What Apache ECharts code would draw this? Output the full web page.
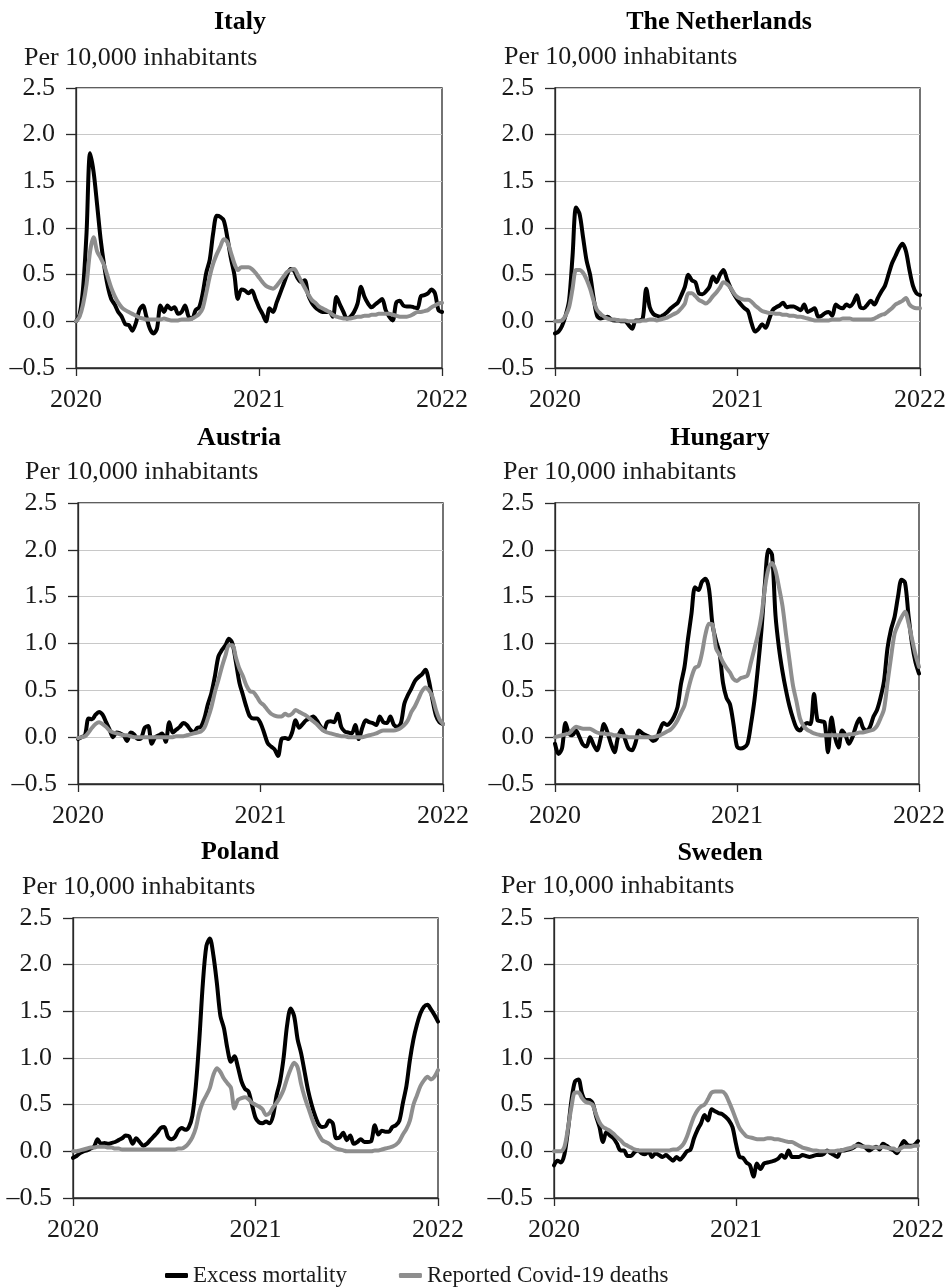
<!DOCTYPE html>
<html><head><meta charset="utf-8">
<script src="https://cdn.jsdelivr.net/npm/echarts@6/dist/echarts.min.js"></script>
<style>html,body{margin:0;padding:0;background:#fff}#c{width:952px;height:1287px}</style>
</head><body><div id="c"></div>
<script>
// ---------- DATA ----------
const countries = ['Italy', 'The Netherlands', 'Austria', 'Hungary', 'Poland', 'Sweden'];
const seriesNames = ['Excess mortality', 'Reported Covid-19 deaths'];
const unitLabel = 'Per 10,000 inhabitants';
const xTickLabels = ['2020', '2021', '2022'];   // one label per 52 weeks
const yMin = -0.5, yMax = 2.5, yStep = 0.5;

// weekly values, week 0 = start of 2020, week 104 = start of 2022
const italyExcess = [0.0,0.07,0.35,0.95,1.8,1.6,1.25,0.88,0.6,0.38,
 0.24,0.18,0.1,0.05,-0.03,-0.04,-0.1,-0.02,0.12,0.17,
 0.05,-0.08,-0.13,-0.08,0.17,0.1,0.17,0.13,0.15,0.08,
 0.1,0.17,0.05,0.03,0.12,0.15,0.3,0.52,0.66,0.95,
 1.13,1.12,1.08,0.9,0.68,0.5,0.24,0.34,0.33,0.3,
 0.33,0.24,0.15,0.08,0.0,0.14,0.1,0.2,0.3,0.4,
 0.5,0.56,0.54,0.46,0.42,0.44,0.28,0.2,0.15,0.12,
 0.1,0.1,0.1,0.05,0.26,0.18,0.1,0.03,0.05,0.1,
 0.19,0.37,0.26,0.19,0.15,0.18,0.21,0.24,0.12,0.05,
 0.01,0.2,0.22,0.17,0.16,0.16,0.15,0.14,0.27,0.28,
 0.3,0.34,0.3,0.12,0.1];
const italyReported = [0.0,0.05,0.18,0.4,0.75,0.9,0.75,0.68,0.6,0.48,
 0.36,0.27,0.2,0.15,0.12,0.1,0.08,0.06,0.04,0.03,
 0.02,0.02,0.02,0.02,0.02,0.03,0.02,0.01,0.01,0.01,
 0.02,0.02,0.02,0.03,0.05,0.08,0.14,0.3,0.48,0.62,
 0.72,0.8,0.88,0.85,0.74,0.62,0.55,0.58,0.58,0.58,
 0.56,0.52,0.47,0.42,0.38,0.36,0.35,0.38,0.43,0.48,
 0.53,0.55,0.56,0.5,0.43,0.36,0.29,0.23,0.2,0.16,
 0.14,0.12,0.1,0.07,0.05,0.04,0.03,0.03,0.03,0.04,
 0.05,0.05,0.06,0.06,0.07,0.07,0.08,0.08,0.08,0.08,
 0.07,0.06,0.05,0.05,0.05,0.06,0.08,0.1,0.1,0.11,
 0.12,0.15,0.17,0.19,0.2];

const netherlandsExcess = [-0.13,-0.11,-0.05,0.06,0.22,0.7,1.22,1.15,0.9,0.65,
 0.5,0.25,0.06,0.03,0.04,0.05,0.02,0.01,0.01,0.0,
 0.0,-0.04,-0.08,0.01,0.01,0.03,0.35,0.15,0.08,0.06,
 0.05,0.07,0.1,0.14,0.17,0.2,0.28,0.37,0.5,0.44,
 0.42,0.3,0.29,0.32,0.37,0.48,0.42,0.5,0.55,0.45,
 0.36,0.29,0.23,0.18,0.14,0.11,-0.02,-0.11,-0.08,-0.03,
 -0.07,0.02,0.12,0.15,0.17,0.2,0.15,0.16,0.16,0.14,
 0.12,0.18,0.1,0.12,0.14,0.05,0.06,0.09,0.1,0.06,
 0.18,0.15,0.14,0.18,0.16,0.2,0.28,0.15,0.14,0.18,
 0.22,0.18,0.25,0.32,0.38,0.5,0.62,0.7,0.78,0.83,
 0.75,0.55,0.38,0.3,0.28];
const netherlandsReported = [0,0,0.01,0.06,0.15,0.35,0.55,0.55,0.52,0.45,
 0.35,0.22,0.12,0.08,0.05,0.03,0.02,0.02,0.01,0.01,
 0.01,0,0,0,0,0.01,0.01,0.02,0.02,0.01,
 0.02,0.03,0.04,0.06,0.08,0.1,0.14,0.19,0.3,0.3,
 0.27,0.23,0.21,0.19,0.22,0.27,0.31,0.36,0.42,0.4,
 0.36,0.3,0.26,0.24,0.23,0.23,0.21,0.17,0.14,0.11,
 0.1,0.09,0.09,0.08,0.08,0.07,0.07,0.06,0.06,0.05,
 0.05,0.04,0.03,0.02,0.01,0.01,0.01,0.01,0.01,0.02,
 0.02,0.02,0.03,0.03,0.03,0.02,0.02,0.02,0.02,0.02,
 0.02,0.03,0.05,0.07,0.08,0.11,0.14,0.18,0.2,0.22,
 0.25,0.18,0.15,0.14,0.14];

const austriaExcess = [-0.02,0.0,0.02,0.2,0.19,0.24,0.27,0.24,0.16,0.08,
 0.0,0.05,0.04,0.02,-0.04,0.05,0.03,-0.02,-0.01,0.1,
 0.12,-0.07,0.0,0.02,0.04,-0.05,0.16,0.05,0.08,0.11,
 0.15,0.13,0.08,0.05,0.1,0.11,0.2,0.35,0.47,0.65,
 0.86,0.93,0.98,1.05,1.0,0.8,0.58,0.45,0.32,0.22,
 0.2,0.2,0.15,0.05,-0.06,-0.1,-0.13,-0.2,-0.02,-0.01,
 -0.02,0.05,0.18,0.1,0.14,0.18,0.2,0.22,0.18,0.12,
 0.07,0.16,0.17,0.16,0.25,0.11,0.06,0.05,0.04,0.13,
 -0.02,0.1,0.18,0.16,0.15,0.13,0.22,0.16,0.15,0.22,
 0.13,0.11,0.15,0.36,0.45,0.52,0.6,0.64,0.67,0.72,
 0.6,0.4,0.23,0.16,0.14];
const austriaReported = [-0.01,0,0.01,0.05,0.1,0.14,0.16,0.14,0.11,0.07,
 0.05,0.04,0.03,0.02,0.02,0.01,0.0,0,0,0,
 0,0,0,0,0,0,0,0,0.01,0.01,
 0.01,0.02,0.03,0.04,0.05,0.06,0.1,0.2,0.32,0.48,
 0.61,0.75,0.87,0.98,0.98,0.85,0.73,0.65,0.55,0.49,
 0.48,0.43,0.37,0.34,0.29,0.25,0.23,0.22,0.22,0.25,
 0.23,0.25,0.29,0.27,0.25,0.23,0.2,0.17,0.14,0.1,
 0.07,0.05,0.04,0.03,0.02,0.01,0.01,0,0,0,
 0,0,0.01,0.02,0.03,0.04,0.06,0.07,0.07,0.07,
 0.07,0.08,0.1,0.13,0.18,0.27,0.33,0.41,0.49,0.53,
 0.5,0.43,0.29,0.19,0.14];

const hungaryExcess = [-0.07,-0.18,-0.12,0.15,0.04,0.02,0.07,0.0,-0.08,-0.1,
 0.0,-0.08,-0.14,-0.02,0.14,0.05,-0.07,-0.16,0.0,0.08,
 -0.02,-0.12,-0.14,-0.06,0.07,0.04,0.02,0.0,-0.04,-0.02,
 0.08,0.15,0.13,0.16,0.22,0.32,0.57,0.75,1.05,1.32,
 1.6,1.57,1.66,1.69,1.58,1.2,1.03,0.9,0.58,0.42,
 0.35,0.14,-0.1,-0.12,-0.11,-0.07,0.14,0.4,0.75,1.15,
 1.65,2.0,1.95,1.3,0.95,0.7,0.5,0.33,0.2,0.1,
 0.07,0.12,0.15,0.14,0.46,0.18,0.17,0.16,-0.16,0.21,
 0.0,-0.11,0.07,0.02,-0.07,0.0,0.12,0.2,0.1,0.07,
 0.11,0.22,0.29,0.42,0.6,0.95,1.15,1.28,1.5,1.68,
 1.65,1.3,1.0,0.8,0.68];
const hungaryReported = [0,0.01,0.02,0.03,0.04,0.08,0.11,0.1,0.09,0.09,
 0.09,0.07,0.05,0.04,0.04,0.03,0.03,0.02,0.02,0.01,
 0.01,0,0,0,0,0,0,0,0,0.01,
 0.02,0.04,0.06,0.08,0.12,0.18,0.26,0.34,0.5,0.64,
 0.74,0.76,0.9,1.1,1.21,1.2,0.95,0.88,0.8,0.74,
 0.69,0.62,0.6,0.63,0.64,0.66,0.8,0.95,1.1,1.3,
 1.6,1.8,1.86,1.78,1.6,1.4,1.1,0.82,0.55,0.38,
 0.2,0.12,0.08,0.06,0.04,0.03,0.02,0.02,0.02,0.02,
 0.02,0.02,0.02,0.02,0.03,0.03,0.04,0.05,0.05,0.06,
 0.07,0.08,0.12,0.2,0.3,0.58,0.85,1.1,1.2,1.28,
 1.34,1.22,1.05,0.88,0.75];

const polandExcess = [-0.07,-0.05,-0.02,0.0,0.01,0.03,0.05,0.13,0.08,0.09,
 0.08,0.09,0.1,0.12,0.14,0.17,0.16,0.08,0.14,0.1,
 0.06,0.08,0.12,0.16,0.2,0.25,0.26,0.16,0.13,0.15,
 0.22,0.25,0.23,0.26,0.38,0.7,1.2,1.8,2.2,2.28,
 2.1,1.8,1.45,1.32,1.1,0.96,1.02,0.9,0.75,0.67,
 0.64,0.5,0.36,0.31,0.3,0.32,0.3,0.38,0.6,0.75,
 1.0,1.35,1.53,1.45,1.2,1.05,0.85,0.65,0.5,0.38,
 0.29,0.26,0.27,0.33,0.3,0.14,0.15,0.2,0.12,0.17,
 0.08,0.1,0.13,0.1,0.1,0.11,0.28,0.18,0.22,0.21,
 0.21,0.26,0.28,0.33,0.52,0.7,0.98,1.2,1.36,1.48,
 1.55,1.57,1.52,1.46,1.39];
const polandReported = [0,0.0,0.01,0.02,0.03,0.04,0.04,0.05,0.05,0.05,
 0.04,0.04,0.03,0.03,0.02,0.02,0.02,0.02,0.02,0.02,
 0.02,0.02,0.02,0.02,0.02,0.02,0.02,0.02,0.02,0.02,
 0.03,0.03,0.05,0.09,0.15,0.25,0.42,0.53,0.6,0.68,
 0.82,0.89,0.85,0.78,0.73,0.68,0.46,0.55,0.57,0.58,
 0.56,0.52,0.5,0.48,0.45,0.39,0.41,0.47,0.52,0.58,
 0.66,0.78,0.88,0.95,0.9,0.72,0.58,0.47,0.36,0.26,
 0.18,0.12,0.1,0.08,0.05,0.03,0.02,0.01,0.0,0,
 0,0,0,0,0,0,0.01,0.01,0.02,0.03,
 0.04,0.05,0.07,0.11,0.18,0.24,0.33,0.5,0.6,0.7,
 0.76,0.8,0.77,0.8,0.87];

const swedenExcess = [-0.15,-0.1,-0.12,-0.03,0.23,0.55,0.75,0.77,0.62,0.55,
 0.55,0.52,0.38,0.26,0.1,0.21,0.17,0.14,0.08,0.01,
 0.01,-0.05,-0.05,-0.01,0.01,-0.02,-0.03,0.0,-0.06,-0.02,
 -0.04,-0.06,-0.04,-0.07,-0.1,-0.06,-0.09,-0.05,0.0,0.02,
 0.14,0.23,0.3,0.39,0.33,0.45,0.43,0.41,0.4,0.37,
 0.33,0.26,0.08,-0.06,-0.07,-0.12,-0.15,-0.27,-0.13,-0.19,
 -0.13,-0.12,-0.11,-0.1,-0.08,-0.04,-0.07,0.01,-0.06,-0.06,
 -0.06,-0.04,-0.05,-0.06,-0.05,-0.04,-0.04,-0.03,0.01,-0.02,
 -0.04,-0.06,0.01,0.01,0.02,0.03,0.05,0.08,0.06,0.04,
 0.01,0.03,0.05,0.02,0.08,0.06,0.03,0.01,-0.02,0.05,
 0.11,0.07,0.06,0.07,0.11];
const swedenReported = [0,0,0,0.05,0.25,0.48,0.63,0.63,0.57,0.53,
 0.52,0.5,0.4,0.31,0.26,0.24,0.22,0.19,0.15,0.12,
 0.08,0.06,0.04,0.02,0.01,0.01,0.01,0.01,0.01,0.01,
 0.01,0.01,0.01,0.01,0.02,0.02,0.04,0.08,0.16,0.27,
 0.37,0.44,0.48,0.5,0.56,0.63,0.64,0.64,0.64,0.61,
 0.53,0.44,0.34,0.25,0.2,0.16,0.15,0.14,0.13,0.13,
 0.13,0.14,0.14,0.13,0.13,0.12,0.11,0.1,0.1,0.08,
 0.06,0.04,0.03,0.02,0.01,0.01,0,0,0,0,
 0,0.01,0.01,0.02,0.03,0.04,0.06,0.06,0.05,0.05,
 0.05,0.04,0.04,0.04,0.05,0.04,0.03,0.03,0.01,0.03,
 0.05,0.05,0.05,0.06,0.06];

const excessByCountry = [italyExcess, netherlandsExcess, austriaExcess, hungaryExcess, polandExcess, swedenExcess];
const reportedByCountry = [italyReported, netherlandsReported, austriaReported, hungaryReported, polandReported, swedenReported];

// ---------- LAYOUT / STYLE ----------
const FONT = "'Liberation Serif', 'Times New Roman', serif";
const weeksPerYear = 52;
const panels = [
  {left: 76,  top: 88,  width: 366, height: 280, tx: 240, ty: 22,  sx: 24,  sy: 58},
  {left: 555, top: 88,  width: 365, height: 280, tx: 719, ty: 22,  sx: 504, sy: 57},
  {left: 78,  top: 503, width: 365, height: 281, tx: 239, ty: 438, sx: 25,  sy: 472},
  {left: 555, top: 503, width: 364, height: 281, tx: 720, ty: 438, sx: 503, sy: 472},
  {left: 73,  top: 918, width: 365, height: 280, tx: 240, ty: 852, sx: 22,  sy: 887},
  {left: 554, top: 918, width: 364, height: 280, tx: 720, ty: 853, sx: 501, sy: 886}
];
const BLACK = '#000000', GREY = '#8e8e8e', AXIS = '#2a2a2a';

const grid = [], xAxis = [], yAxis = [], series = [], graphic = [];
panels.forEach((p, i) => {
  grid.push({left: p.left, top: p.top, width: p.width, height: p.height,
    show: true, borderColor: AXIS, borderWidth: 1.3, backgroundColor: 'transparent'});
  const nWeeks = excessByCountry[i].length - 1;
  xAxis.push({type: 'value', gridIndex: i, min: 0, max: nWeeks, interval: weeksPerYear,
    axisLine: {show: true, onZero: false, lineStyle: {color: AXIS, width: 1.3}},
    axisTick: {show: true, length: 8, lineStyle: {color: AXIS, width: 1.3}},
    splitLine: {show: false},
    axisLabel: {show: true, margin: 19, color: '#1a1a1a', fontFamily: FONT, fontSize: 26,
      showMinLabel: true, showMaxLabel: true,
      formatter: v => xTickLabels[Math.round(v / weeksPerYear)] || ''}});
  yAxis.push({type: 'value', gridIndex: i, min: yMin, max: yMax, interval: yStep,
    axisLine: {show: true, onZero: false, lineStyle: {color: AXIS, width: 1.3}},
    axisTick: {show: true, length: 10, lineStyle: {color: AXIS, width: 1.3}},
    splitLine: {show: true, lineStyle: {color: '#c8c8c8', width: 1}},
    axisLabel: {margin: 21, color: '#1a1a1a', fontFamily: FONT, fontSize: 26,
      formatter: v => (v < 0 ? '\u2013' + Math.abs(v).toFixed(1) : v.toFixed(1))}});
  [excessByCountry[i], reportedByCountry[i]].forEach((arr, k) => {
    series.push({type: 'line', name: seriesNames[k], xAxisIndex: i, yAxisIndex: i,
      data: arr.map((v, w) => [w, v]), showSymbol: false, symbol: 'none', smooth: 0.3,
      lineStyle: {color: k === 0 ? BLACK : GREY, width: 4, cap: 'round', join: 'round'},
      itemStyle: {color: k === 0 ? BLACK : GREY}, z: 2 + k, animation: false});
  });
  graphic.push({type: 'text', x: p.tx, y: p.ty, style: {text: countries[i],
    font: "bold 26px " + FONT, fill: '#000', textAlign: 'center', textVerticalAlign: 'middle'}});
  graphic.push({type: 'text', x: p.sx, y: p.sy, style: {text: unitLabel,
    font: "26px " + FONT, fill: '#1a1a1a', textAlign: 'left', textVerticalAlign: 'middle'}});
});

const chart = echarts.init(document.getElementById('c'), null, {renderer: 'canvas'});
chart.setOption({
  animation: false,
  backgroundColor: '#ffffff',
  grid, xAxis, yAxis, series, graphic,
  legend: {data: seriesNames, left: 160, top: 1259, icon: 'roundRect', itemWidth: 23, itemHeight: 5,
    itemGap: 52, textStyle: {fontFamily: FONT, fontSize: 23, color: '#1a1a1a'}}
});
</script></body></html>
